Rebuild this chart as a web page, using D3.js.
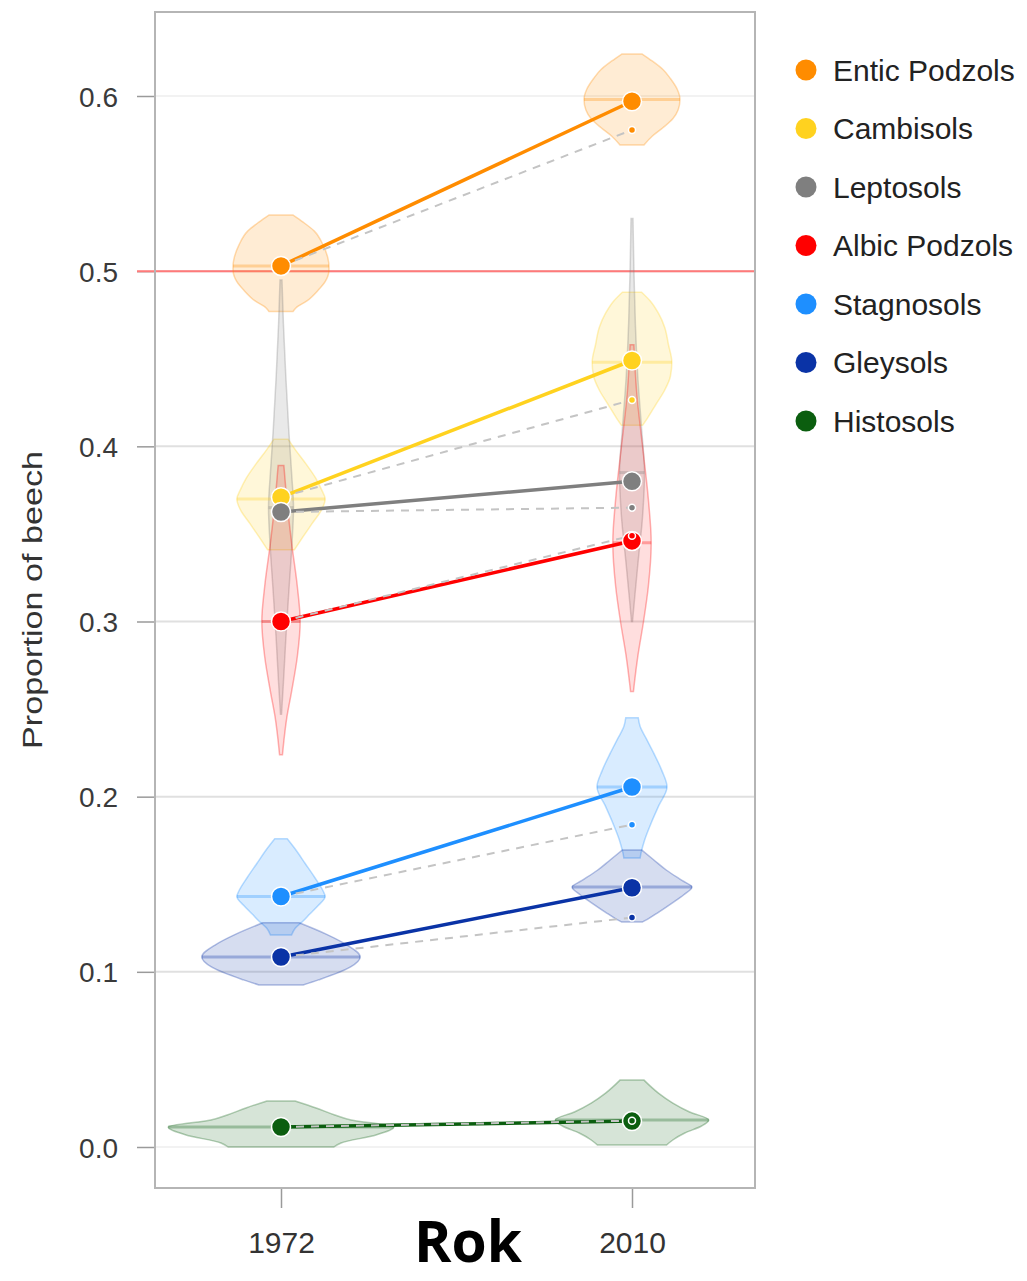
<!DOCTYPE html>
<html>
<head>
<meta charset="utf-8">
<script src="https://cdn.jsdelivr.net/npm/d3@7/dist/d3.min.js"></script>
<style>
  body { margin: 0; background: #fff; }
  svg { display: block; }
</style>
</head>
<body>
<script>
var width = 1027;
var height = 1281;

// soils, colours and the estimated values
var soils = ["Entic Podzols", "Cambisols", "Leptosols", "Albic Podzols", "Stagnosols", "Gleysols", "Histosols"];
var colors = ["#ff8c00", "#ffd21f", "#7f7f7f", "#ff0000", "#1e8fff", "#0a33a6", "#0b5e0f"];
var years = [1972, 2010];
var mean1972 = [0.503, 0.371, 0.3625, 0.300, 0.143, 0.1085, 0.0114];
var mean2010 = [0.597, 0.449, 0.380, 0.346, 0.2055, 0.148, 0.0148];
var expected2010 = [0.5806, 0.4265, 0.365, 0.349, 0.184, 0.131, 0.015];
var median1972 = [0.503, 0.370, 0.365, 0.300, 0.143, 0.1085, 0.0114];
var median2010 = [0.598, 0.448, 0.385, 0.345, 0.2055, 0.1484, 0.0154];
var yTicks = [0, 0.1, 0.2, 0.3, 0.4, 0.5, 0.6];
var refValue = 0.5;

// violin outlines: [value, relative density], top to bottom
var violin1972 = [
  [[0.532, 0.25], [0.528, 0.46], [0.523, 0.69], [0.515, 0.875], [0.507, 0.98], [0.503, 1.0], [0.501, 1.0], [0.494, 0.92], [0.489, 0.77], [0.483, 0.54], [0.479, 0.31], [0.477, 0.25]],
  [[0.404, 0.15], [0.398, 0.30], [0.390, 0.52], [0.382, 0.72], [0.375, 0.85], [0.370, 0.92], [0.364, 0.85], [0.356, 0.65], [0.348, 0.45], [0.341, 0.28]],
  [[0.495, 0.02], [0.47, 0.05], [0.44, 0.10], [0.41, 0.16], [0.385, 0.22], [0.365, 0.26], [0.345, 0.23], [0.32, 0.17], [0.29, 0.10], [0.265, 0.05], [0.247, 0.01]],
  [[0.389, 0.06], [0.37, 0.12], [0.345, 0.22], [0.32, 0.34], [0.30, 0.40], [0.28, 0.34], [0.26, 0.22], [0.245, 0.12], [0.232, 0.06], [0.224, 0.03]],
  [[0.176, 0.13], [0.170, 0.30], [0.162, 0.50], [0.154, 0.70], [0.146, 0.88], [0.143, 0.92], [0.138, 0.78], [0.133, 0.60], [0.129, 0.46], [0.125, 0.30], [0.121, 0.22]],
  [[0.128, 0.38], [0.1214, 0.95], [0.1157, 1.35], [0.1085, 1.65], [0.1028, 1.45], [0.0954, 0.78], [0.0925, 0.46]],
  [[0.0263, 0.29], [0.0223, 0.73], [0.0183, 1.12], [0.0154, 1.46], [0.0114, 2.35], [0.0069, 1.98], [0.0023, 1.25], [0.0, 1.10]]
];
var violin2010 = [
  [[0.624, 0.21], [0.620, 0.42], [0.615, 0.65], [0.610, 0.80], [0.604, 0.94], [0.598, 1.0], [0.592, 0.96], [0.587, 0.85], [0.582, 0.65], [0.577, 0.42], [0.572, 0.25]],
  [[0.488, 0.20], [0.483, 0.38], [0.476, 0.55], [0.468, 0.68], [0.458, 0.76], [0.448, 0.83], [0.440, 0.80], [0.432, 0.68], [0.424, 0.50], [0.416, 0.32], [0.412, 0.22]],
  [[0.530, 0.02], [0.50, 0.04], [0.47, 0.07], [0.44, 0.12], [0.41, 0.20], [0.385, 0.26], [0.36, 0.22], [0.335, 0.13], [0.315, 0.06], [0.30, 0.01]],
  [[0.458, 0.04], [0.43, 0.10], [0.40, 0.22], [0.37, 0.34], [0.345, 0.40], [0.32, 0.34], [0.30, 0.24], [0.28, 0.12], [0.265, 0.05], [0.26, 0.03]],
  [[0.245, 0.13], [0.240, 0.17], [0.233, 0.30], [0.225, 0.45], [0.215, 0.62], [0.2055, 0.73], [0.195, 0.56], [0.185, 0.40], [0.175, 0.26], [0.168, 0.19], [0.165, 0.17]],
  [[0.1696, 0.20], [0.164, 0.45], [0.158, 0.72], [0.152, 1.05], [0.1484, 1.25], [0.144, 1.08], [0.139, 0.82], [0.134, 0.55], [0.130, 0.32], [0.1285, 0.22]],
  [[0.0382, 0.25], [0.0308, 0.55], [0.0251, 0.85], [0.0200, 1.20], [0.0154, 1.60], [0.0120, 1.45], [0.0080, 1.10], [0.0040, 0.85], [0.0011, 0.72]]
];

var panel = {left: 155, right: 755, top: 12, bottom: 1188};

var svg = d3.select("body")
    .append("svg")
    .attr("width", width)
    .attr("height", height);

var y = d3.scaleLinear().domain([0, 0.6]).range([1147, 96]);
var x = d3.scaleLinear().domain([1972, 2010]).range([281, 632]);
var w = d3.scaleLinear().domain([0, 1]).range([0, 48]);

// grid lines
svg.append("g")
    .selectAll("line")
    .data(yTicks)
    .enter().append("line")
    .attr("x1", panel.left).attr("x2", panel.right)
    .attr("y1", function(d) { return y(d); })
    .attr("y2", function(d) { return y(d); })
    .style("stroke", function(d) { return (d === 0 || d === 0.6) ? "#f2f2f2" : "#e0e0e0"; })
    .style("stroke-width", 2);

// y axis ticks + labels
var yAxis = svg.append("g")
    .attr("transform", "translate(" + panel.left + ",0)")
    .call(d3.axisLeft(y).tickValues(yTicks).tickFormat(d3.format(".1f")).tickSize(18).tickPadding(19));
yAxis.select(".domain").remove();
yAxis.selectAll("line").style("stroke", "#9a9a9a").style("stroke-width", 1.5);
yAxis.selectAll("text")
    .style("font-family", "Liberation Sans, Arial, sans-serif")
    .style("font-size", "28px")
    .style("fill", "#3a3a3a")
    .attr("dy", "0.36em");

// reference line at 0.5
svg.append("line")
    .attr("x1", panel.left - 18).attr("x2", panel.right)
    .attr("y1", y(refValue)).attr("y2", y(refValue))
    .style("stroke", "#ff7a7a")
    .style("stroke-width", 2);

// x axis
var xAxis = svg.append("g")
    .attr("transform", "translate(0," + panel.bottom + ")")
    .call(d3.axisBottom(x).tickValues(years).tickFormat(d3.format("d")).tickSize(20).tickPadding(24));
xAxis.select(".domain").remove();
xAxis.selectAll("line").style("stroke", "#9a9a9a").style("stroke-width", 1.5);
xAxis.selectAll("text")
    .style("font-family", "Liberation Sans, Arial, sans-serif")
    .style("font-size", "30px")
    .style("fill", "#333");

// violins
function halfWidth(profile, v) {
  for (var i = 0; i < profile.length - 1; i++) {
    var a = profile[i], b = profile[i + 1];
    if (v <= a[0] && v >= b[0]) {
      var t = (a[0] - v) / (a[0] - b[0]);
      return a[1] + t * (b[1] - a[1]);
    }
  }
  return 0;
}

function drawViolins(profiles, medians, year) {
  var cx = x(year);
  var area = d3.area()
      .curve(d3.curveMonotoneY)
      .y(function(d) { return y(d[0]); })
      .x0(function(d) { return cx - w(d[1]); })
      .x1(function(d) { return cx + w(d[1]); });

  var g = svg.append("g").attr("class", "violins-" + year);
  g.selectAll("path")
      .data(profiles)
      .enter().append("path")
      .attr("d", area)
      .style("fill", function(d, i) { return colors[i]; })
      .style("fill-opacity", function(d, i) { return i === 3 ? 0.13 : 0.17; })
      .style("stroke", function(d, i) { return colors[i]; })
      .style("stroke-opacity", 0.3)
      .style("stroke-width", 1.5);

  g.selectAll("line")
      .data(profiles)
      .enter().append("line")
      .attr("x1", function(d, i) { return cx - w(halfWidth(d, medians[i])); })
      .attr("x2", function(d, i) { return cx + w(halfWidth(d, medians[i])); })
      .attr("y1", function(d, i) { return y(medians[i]); })
      .attr("y2", function(d, i) { return y(medians[i]); })
      .style("stroke", function(d, i) { return colors[i]; })
      .style("stroke-opacity", 0.3)
      .style("stroke-width", 3);
}
drawViolins(violin1972, median1972, 1972);
drawViolins(violin2010, median2010, 2010);

// observed change lines
svg.append("g")
    .selectAll("line")
    .data(soils)
    .enter().append("line")
    .attr("x1", x(1972)).attr("x2", x(2010))
    .attr("y1", function(d, i) { return y(mean1972[i]); })
    .attr("y2", function(d, i) { return y(mean2010[i]); })
    .style("stroke", function(d, i) { return colors[i]; })
    .style("stroke-width", 3.5);

// expected change (dashed)
svg.append("g")
    .selectAll("line")
    .data(soils)
    .enter().append("line")
    .attr("x1", x(1972)).attr("x2", x(2010))
    .attr("y1", function(d, i) { return y(mean1972[i]); })
    .attr("y2", function(d, i) { return y(expected2010[i]); })
    .style("stroke", "#c4c4c4")
    .style("stroke-width", 2)
    .style("stroke-dasharray", "8,7");

// mean points
[[mean1972, 1972], [mean2010, 2010]].forEach(function(p) {
  svg.append("g")
      .selectAll("circle")
      .data(p[0])
      .enter().append("circle")
      .attr("cx", x(p[1]))
      .attr("cy", function(d) { return y(d); })
      .attr("r", 9.5)
      .style("fill", function(d, i) { return colors[i]; })
      .style("stroke", "#fff")
      .style("stroke-width", 1.5);
});

// expected points
svg.append("g")
    .selectAll("circle")
    .data(expected2010)
    .enter().append("circle")
    .attr("cx", x(2010))
    .attr("cy", function(d) { return y(d); })
    .attr("r", 3.5)
    .style("fill", function(d, i) { return colors[i]; })
    .style("stroke", "#fff")
    .style("stroke-width", 1.5);

// panel border
svg.append("rect")
    .attr("x", panel.left).attr("y", panel.top)
    .attr("width", panel.right - panel.left)
    .attr("height", panel.bottom - panel.top)
    .style("fill", "none")
    .style("stroke", "#b5b5b5")
    .style("stroke-width", 2);

// axis titles
svg.append("text")
    .attr("transform", "translate(42,600) rotate(-90)")
    .attr("text-anchor", "middle")
    .attr("textLength", 298)
    .attr("lengthAdjust", "spacingAndGlyphs")
    .style("font-family", "Liberation Sans, Arial, sans-serif")
    .style("font-size", "27px")
    .style("fill", "#333")
    .text("Proportion of beech");

svg.append("text")
    .attr("x", 468).attr("y", 1262)
    .attr("text-anchor", "middle")
    .attr("textLength", 108)
    .attr("lengthAdjust", "spacingAndGlyphs")
    .style("font-family", "Open Sans, Liberation Sans, sans-serif")
    .style("font-weight", "bold")
    .style("font-size", "57px")
    .style("fill", "#000")
    .text("Rok");

// legend
var legend = svg.append("g")
    .selectAll("g")
    .data(soils)
    .enter().append("g")
    .attr("transform", function(d, i) { return "translate(806," + (70 + i * 58.5) + ")"; });
legend.append("circle")
    .attr("r", 10.5)
    .style("fill", function(d, i) { return colors[i]; });
legend.append("text")
    .attr("x", 27)
    .attr("dy", "0.36em")
    .style("font-family", "Liberation Sans, Arial, sans-serif")
    .style("font-size", "30px")
    .style("fill", "#222")
    .text(function(d) { return d; });
</script>
</body>
</html>
